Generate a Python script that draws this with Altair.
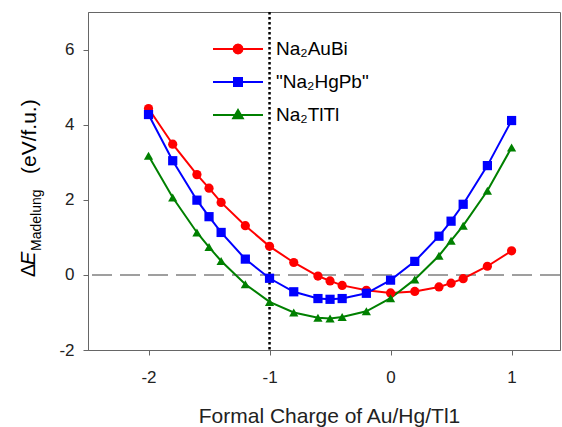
import math
import altair as alt
import pandas as pd

# ---------------- data ----------------
charge = [-2.0, -1.8, -1.6, -1.5, -1.4, -1.2, -1.0, -0.8, -0.6, -0.5, -0.4, -0.2, 0.0, 0.2, 0.4, 0.5, 0.6, 0.8, 1.0]
na2aubi = [4.43, 3.48, 2.67, 2.31, 1.93, 1.31, 0.76, 0.33, -0.03, -0.16, -0.28, -0.41, -0.48, -0.44, -0.32, -0.22, -0.10, 0.23, 0.64]
na2hgpb = [4.27, 3.04, 1.99, 1.55, 1.13, 0.42, -0.09, -0.45, -0.63, -0.65, -0.63, -0.49, -0.14, 0.36, 1.03, 1.43, 1.88, 2.91, 4.11]
na2tltl = [3.17, 2.06, 1.13, 0.74, 0.37, -0.25, -0.72, -1.00, -1.14, -1.16, -1.12, -0.97, -0.62, -0.12, 0.51, 0.91, 1.31, 2.24, 3.39]

series_names = ["Na\u2082AuBi", "\"Na\u2082HgPb\"", "Na\u2082TlTl"]
series_colors = ["#ff0000", "#0000ff", "#008000"]
series_shapes = ["circle", "square", "triangle-up"]

x_ticks = [-2, -1, 0, 1]
y_ticks = [-2, 0, 2, 4, 6]
x_title = "Formal Charge of Au/Hg/Tl1"
y_title_parts = ["\u0394", "E", "Madelung", "(eV/f.u.)"]
zero_line = [0]
charge_line = [-1]

rows = []
for name, vals in zip(series_names, [na2aubi, na2hgpb, na2tltl]):
    for xv, yv in zip(charge, vals):
        rows.append({"charge": xv, "energy": yv, "series": name, "entry": name})
df = pd.DataFrame(rows)

# ---------------- legend symbol paths (line + marker) ----------------
def poly(pts):
    return "M" + "L".join(f"{px:.3f},{py:.3f}" for px, py in pts) + "Z"

seg = "M-2.5,0L2.5,0"
circle = seg + poly([(0.45 * math.cos(a * math.pi / 6), 0.45 * math.sin(a * math.pi / 6)) for a in range(12)])
square = seg + poly([(-0.4, -0.4), (0.4, -0.4), (0.4, 0.4), (-0.4, 0.4)])
tri = seg + poly([(0, -0.5), (0.48, 0.33), (-0.48, 0.33)])
legend_paths = [circle, square, tri]

legend = alt.Legend(
    title=None,
    orient="none",
    legendX=139,
    legendY=26,
    padding=0,
    symbolSize=400,
    symbolStrokeWidth=2,
    symbolOpacity=1,
    labelOffset=27,
    rowPadding=12,
    labelFont="Liberation Sans",
    labelFontSize=19,
    labelColor="#000000",
    labelLimit=300,
)

xs = alt.X(
    "charge:Q",
    scale=alt.Scale(domain=[-2.5, 1.4], nice=False, zero=False),
    axis=alt.Axis(values=x_ticks, title=x_title, titleY=72, titleX=241, titleBaseline="alphabetic",
                  labelPadding=14, labelExpr="'' + datum.value"),
)
ys = alt.Y(
    "energy:Q",
    scale=alt.Scale(domain=[-2, 7], nice=False, zero=False),
    axis=alt.Axis(values=y_ticks, title=None, labelPadding=9, labelExpr="'' + datum.value"),
)

color_enc = alt.Color("series:N", scale=alt.Scale(domain=series_names, range=series_colors), legend=None)

base = alt.Chart(df)

lines = base.mark_line(strokeWidth=2).encode(x=xs, y=ys, color=color_enc, detail="series:N")
points = base.mark_point(filled=True, size=85, opacity=1).encode(
    x=xs, y=ys, color=color_enc,
    shape=alt.Shape("series:N", scale=alt.Scale(domain=series_names, range=series_shapes), legend=None),
)
# invisible layer that only carries the legend (line + marker symbols)
legend_layer = base.mark_point(filled=True, size=400, opacity=0).encode(
    x=xs, y=ys,
    fill=alt.Fill("entry:N", scale=alt.Scale(domain=series_names, range=series_colors), legend=legend),
    stroke=alt.Stroke("entry:N", scale=alt.Scale(domain=series_names, range=series_colors), legend=legend),
    shape=alt.Shape("entry:N", scale=alt.Scale(domain=series_names, range=legend_paths), legend=legend),
)

hline = alt.Chart(pd.DataFrame({"y": zero_line})).mark_rule(
    color="#808080", strokeWidth=1.5, strokeDash=[20, 8]
).encode(y="y:Q")
vline = alt.Chart(pd.DataFrame({"x": charge_line})).mark_rule(
    color="#000000", strokeWidth=2.5, strokeDash=[2.5, 2.5]
).encode(x="x:Q")

one = pd.DataFrame({"k": [0]})
t_delta = alt.Chart(one).mark_text(
    text=y_title_parts[0], angle=270, align="left", baseline="alphabetic",
    font="Liberation Sans", fontSize=20, color="#000000"
).encode(x=alt.value(-53), y=alt.value(265))
t_e = alt.Chart(one).mark_text(
    text=y_title_parts[1], angle=270, align="left", baseline="alphabetic",
    font="Liberation Sans", fontSize=20, fontStyle="italic", color="#000000"
).encode(x=alt.value(-53), y=alt.value(253))
t_sub = alt.Chart(one).mark_text(
    text=y_title_parts[2], angle=270, align="left", baseline="alphabetic",
    font="Liberation Sans", fontSize=14, color="#000000"
).encode(x=alt.value(-47), y=alt.value(239))
t_unit = alt.Chart(one).mark_text(
    text=y_title_parts[3], angle=270, align="left", baseline="alphabetic",
    font="Liberation Sans", fontSize=21, color="#000000"
).encode(x=alt.value(-52), y=alt.value(162))

chart = alt.layer(hline, vline, lines, points, legend_layer, t_delta, t_e, t_sub, t_unit).resolve_scale(
    shape="independent", color="independent", fill="independent", stroke="independent"
).properties(
    width=472,
    height=338,
    autosize=alt.AutoSizeParams(type="none"),
    padding={"left": 88, "top": 12, "right": 2, "bottom": 77},
    background="#ffffff",
).configure_view(
    stroke="#666666", strokeWidth=1
).configure_axis(
    grid=False,
    domainColor="#666666",
    tickColor="#666666",
    tickSize=5,
    labelFont="Liberation Sans",
    labelFontSize=17,
    labelColor="#222222",
    titleFont="Liberation Sans",
    titleFontSize=21,
    titleFontWeight="normal",
    titleColor="#222222",
)

chart.save("out.html", embed_options={"renderer": "svg", "actions": False})
